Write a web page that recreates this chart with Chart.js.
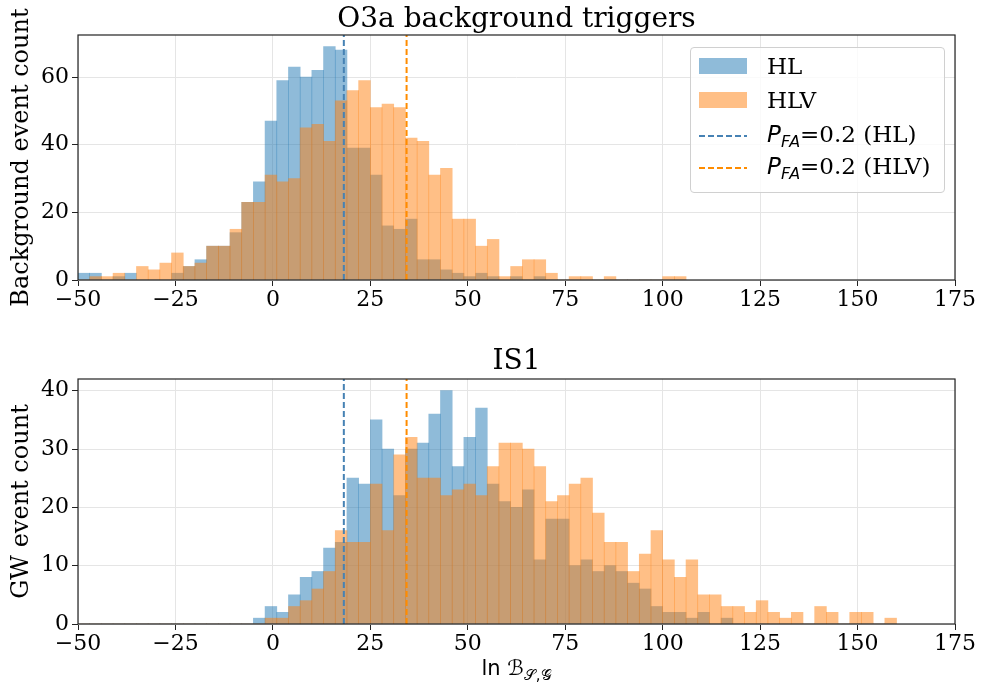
<!DOCTYPE html>
<html>
<head>
<meta charset="utf-8">
<script src="https://cdn.jsdelivr.net/npm/chart.js@4.4.0/dist/chart.umd.min.js"></script>
<style>
  body { margin: 0; background: #fff; }
  #fig { position: relative; width: 982px; height: 693px; font-family: 'DejaVu Serif', serif; color: #000; }
  .panel { position: absolute; left: 0; }
  .title {
    position: absolute; left: 78px; width: 877px; text-align: center;
    font-size: 28px; line-height: 30px; white-space: nowrap;
  }
  #legend {
    position: absolute; left: 690px; top: 47px; width: 255px; height: 146px;
    border: 1px solid #d0d0d0; border-radius: 4px; background: rgba(255,255,255,0.8);
    box-sizing: border-box;
  }
  .row { position: absolute; left: 8px; height: 30px; display: flex; align-items: center; font-size: 23px; white-space: nowrap; }
  .swatch { width: 48px; height: 16px; margin-right: 20px; }
  .dash { width: 48px; height: 16px; margin-right: 20px; }
  .math { font-family: 'DejaVu Sans', sans-serif; font-style: italic; }
  .math sub { font-size: 16px; vertical-align: -5px; }
  #xlabel {
    position: absolute; top: 656px; left: 78px; width: 877px; text-align: center;
    font-family: 'DejaVu Sans', sans-serif; font-size: 21px; white-space: nowrap;
  }
  #xlabel sub { font-size: 15px; vertical-align: -5px; }
</style>
</head>
<body>
<div id="fig">
  <div class="panel" style="top:0"><canvas id="bgChart" width="982" height="325"></canvas></div>
  <div class="panel" style="top:325px"><canvas id="gwChart" width="982" height="368"></canvas></div>

  <div class="title" style="top:3px">O3a background triggers</div>
  <div class="title" style="top:345px">IS1</div>

  <div id="legend">
    <div class="row" style="top:3px"><div class="swatch" style="background:rgba(31,119,180,0.5)"></div>HL</div>
    <div class="row" style="top:37px"><div class="swatch" style="background:rgba(255,127,14,0.5)"></div>HLV</div>
    <div class="row" style="top:73px">
      <svg class="dash" viewBox="0 0 48 16"><line x1="0" y1="8" x2="48" y2="8" stroke="steelblue" stroke-width="2" stroke-dasharray="6,3"/></svg>
      <span><span class="math">P<sub>FA</sub></span>=0.2 (HL)</span>
    </div>
    <div class="row" style="top:105px">
      <svg class="dash" viewBox="0 0 48 16"><line x1="0" y1="8" x2="48" y2="8" stroke="darkorange" stroke-width="2" stroke-dasharray="6,3"/></svg>
      <span><span class="math">P<sub>FA</sub></span>=0.2 (HLV)</span>
    </div>
  </div>

  <div id="xlabel">ln <i>ℬ</i><sub>𝒮,𝒢</sub></div>
</div>

<script>
// histogram bins: left edge of the first bin and bin width
const BIN_START = -50;
const BIN_WIDTH = 3;

// false-alarm thresholds (ln B)
const PFA_HL = 18.2;
const PFA_HLV = 34.3;

// O3a background triggers, counts per bin from -50
const bgHL = [2, 2, 0, 1, 2, 0, 0, 0, 2, 4,
              6, 10, 10, 14, 23, 29, 47, 59, 63, 60,
              62, 69, 68, 39, 39, 31, 16, 15, 18, 6,
              6, 3, 2, 1, 2, 1, 0, 1, 0, 1,
              0, 0, 0, 0, 0, 0, 0, 0, 0, 0, 0, 0];
const bgHLV = [0, 1, 1, 2, 0, 4, 3, 5, 8, 4,
               5, 10, 10, 15, 23, 23, 31, 29, 30, 45,
               46, 41, 53, 56, 59, 51, 52, 51, 42, 41,
               31, 33, 18, 18, 10, 12, 1, 4, 6, 6,
               2, 0, 1, 1, 0, 1, 0, 0, 0, 0, 1, 1];

// IS1 injections, counts per bin from -50
const gwHL = [0, 0, 0, 0, 0, 0, 0, 0, 0, 0,
              0, 0, 0, 0, 0, 1, 3, 2, 5, 8,
              9, 13, 14, 25, 24, 35, 30, 22, 30, 31,
              36, 40, 27, 32, 37, 24, 21, 20, 23, 11,
              18, 18, 10, 11, 9, 10, 9, 7, 6, 3,
              2, 2, 1, 2, 0, 1, 0, 0, 0, 0,
              0, 0, 0, 0, 0, 0, 0, 0, 0, 0];
const gwHLV = [0, 0, 0, 0, 0, 0, 0, 0, 0, 0,
               0, 0, 0, 0, 0, 0, 1, 1, 3, 4,
               6, 9, 16, 14, 14, 24, 16, 29, 32, 25,
               25, 22, 23, 24, 22, 27, 31, 31, 30, 27,
               21, 22, 24, 25, 19, 14, 14, 9, 12, 16,
               11, 8, 11, 5, 5, 3, 3, 2, 4, 2,
               1, 2, 0, 3, 2, 0, 2, 2, 0, 1];

// axis ticks
const xTicks = [-50, -25, 0, 25, 50, 75, 100, 125, 150, 175];
const bgYTicks = [0, 20, 40, 60];
const gwYTicks = [0, 10, 20, 30, 40];

const X_MIN = -50, X_MAX = 175;
const BG_YMAX = 72.45;
const GW_YMAX = 42;

const SERIF = "'DejaVu Serif', serif";

function toBins(counts) {
    return counts.map((c, i) => ({ x: BIN_START + BIN_WIDTH * (i + 0.5), y: c }));
}

function minusLabel(v) {
    return v < 0 ? '\u2212' + Math.abs(v) : String(v);
}

// black box round the plot area
const frame = {
    id: 'frame',
    afterDraw(chart) {
        const { ctx, chartArea: a } = chart;
        ctx.save();
        ctx.strokeStyle = '#222';
        ctx.lineWidth = 1.2;
        ctx.strokeRect(a.left, a.top, a.right - a.left, a.bottom - a.top);
        ctx.restore();
    }
};

function histChart(canvasId, hl, hlv, opts) {
    const vline = (x, color) => ({
        type: 'line',
        data: [{ x: x, y: 0 }, { x: x, y: opts.ymax }],
        borderColor: color,
        borderWidth: 2,
        borderDash: [6, 3],
        pointRadius: 0,
        order: 0
    });

    return new Chart(document.getElementById(canvasId), {
        type: 'bar',
        data: {
            datasets: [
                { label: 'HL', data: toBins(hl), backgroundColor: 'rgba(31,119,180,0.5)', grouped: false, order: 2,
                  barPercentage: 1, categoryPercentage: 1, borderWidth: 0 },
                { label: 'HLV', data: toBins(hlv), backgroundColor: 'rgba(255,127,14,0.5)', grouped: false, order: 1,
                  barPercentage: 1, categoryPercentage: 1, borderWidth: 0 },
                vline(PFA_HL, 'steelblue'),
                vline(PFA_HLV, 'darkorange')
            ]
        },
        options: {
            responsive: false,
            animation: false,
            layout: { padding: { left: 0, right: 27, top: opts.top, bottom: 0 } },
            plugins: {
                legend: { display: false },
                tooltip: { enabled: false },
                title: { display: false }
            },
            scales: {
                x: {
                    type: 'linear',
                    min: X_MIN, max: X_MAX,
                    offset: false,
                    grid: { color: '#e5e5e5', tickColor: '#222', tickLength: 6, offset: false },
                    border: { display: false },
                    ticks: { color: '#000', font: { family: SERIF, size: 22 },
                             padding: 1, maxRotation: 0, autoSkip: false, callback: minusLabel },
                    afterBuildTicks: s => { s.ticks = xTicks.map(v => ({ value: v })); },
                    afterFit: s => { s.height = opts.xAxisHeight; }
                },
                y: {
                    min: 0, max: opts.ymax,
                    grid: { color: '#e5e5e5', tickColor: '#222', tickLength: 6 },
                    border: { display: false },
                    ticks: { color: '#000', font: { family: SERIF, size: 22 }, padding: 3, autoSkip: false },
                    afterBuildTicks: s => { s.ticks = opts.yTicks.map(v => ({ value: v })); },
                    title: { display: true, text: opts.ylabel, color: '#000',
                             font: { family: SERIF, size: 24 }, padding: { top: 7, bottom: 0 } },
                    afterFit: s => { s.width = 78; }
                }
            }
        },
        plugins: [frame]
    });
}

histChart('bgChart', bgHL, bgHLV, {
    ylabel: 'Background event count',
    ymax: BG_YMAX, yTicks: bgYTicks,
    top: 35,
    xAxisHeight: 45
});

histChart('gwChart', gwHL, gwHLV, {
    ylabel: 'GW event count',
    ymax: GW_YMAX, yTicks: gwYTicks,
    top: 54,
    xAxisHeight: 69
});
</script>
</body>
</html>
